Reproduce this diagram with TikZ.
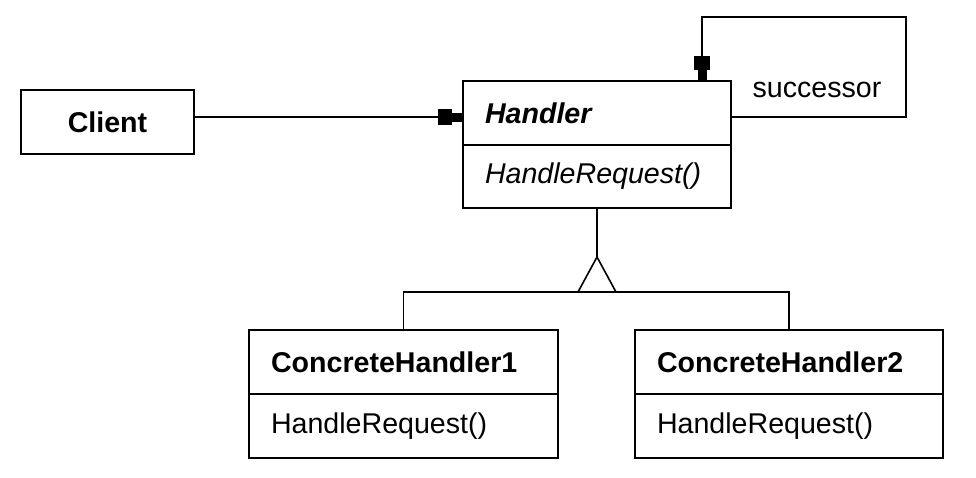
\documentclass[tikz,border=0pt]{standalone}
\usepackage{fontspec}
\setmainfont{Liberation Sans}
\usetikzlibrary{arrows.meta}
\begin{document}
\begin{tikzpicture}[x=1pt,y=-1pt,line width=1.6pt,
  txt/.style={font=\fontsize{28.6pt}{34pt}\selectfont},
  box/.style={draw,rectangle,inner sep=0pt,minimum height=64pt,txt},
  comp/.style={box,minimum width=#1,text width=#1-44pt,align=left},
  hd/.style={-{Rectangle[length=14pt,width=16pt] Rectangle[length=10pt,width=9pt]}}
]
\useasboundingbox (0,0) rectangle (976,477);

\node[box,minimum width=173pt] (client) at (107.5,122) {\bfseries Client};

\node[comp=268pt] (htop) at (597,113) {\bfseries\itshape Handler};
\node[comp=268pt,minimum height=63pt] (hbot) at (597,176.5) {\itshape HandleRequest()};

\node[comp=309pt] (c1top) at (403.5,362) {\bfseries ConcreteHandler1};
\node[comp=309pt] (c1bot) at (403.5,426) {HandleRequest()};

\node[comp=308pt] (c2top) at (789,362) {\bfseries ConcreteHandler2};
\node[comp=308pt] (c2bot) at (789,426) {HandleRequest()};

% client -> handler
\draw[hd] ([yshift=5pt]client.east) -- ([yshift=5pt]client.east -| htop.west);

% successor loop
\coordinate (loop) at (906,17);
\draw[hd] ([yshift=-4pt]htop.east) -| (loop) -| ([xshift=105pt]htop.north);
\node[txt,anchor=center] (succ) at (817,90) {successor};

% inheritance
\coordinate (apex) at (597,257);
\coordinate (bl) at (578,292);
\coordinate (br) at (616,292);
\draw (hbot.south) -- (apex);
\draw[line join=miter] (apex) -- (bl) -- (br) -- cycle;
\draw (c1top.north) -- (c1top.north |- bl) -- (c2top.north |- bl) -- (c2top.north);
\end{tikzpicture}
\end{document}
